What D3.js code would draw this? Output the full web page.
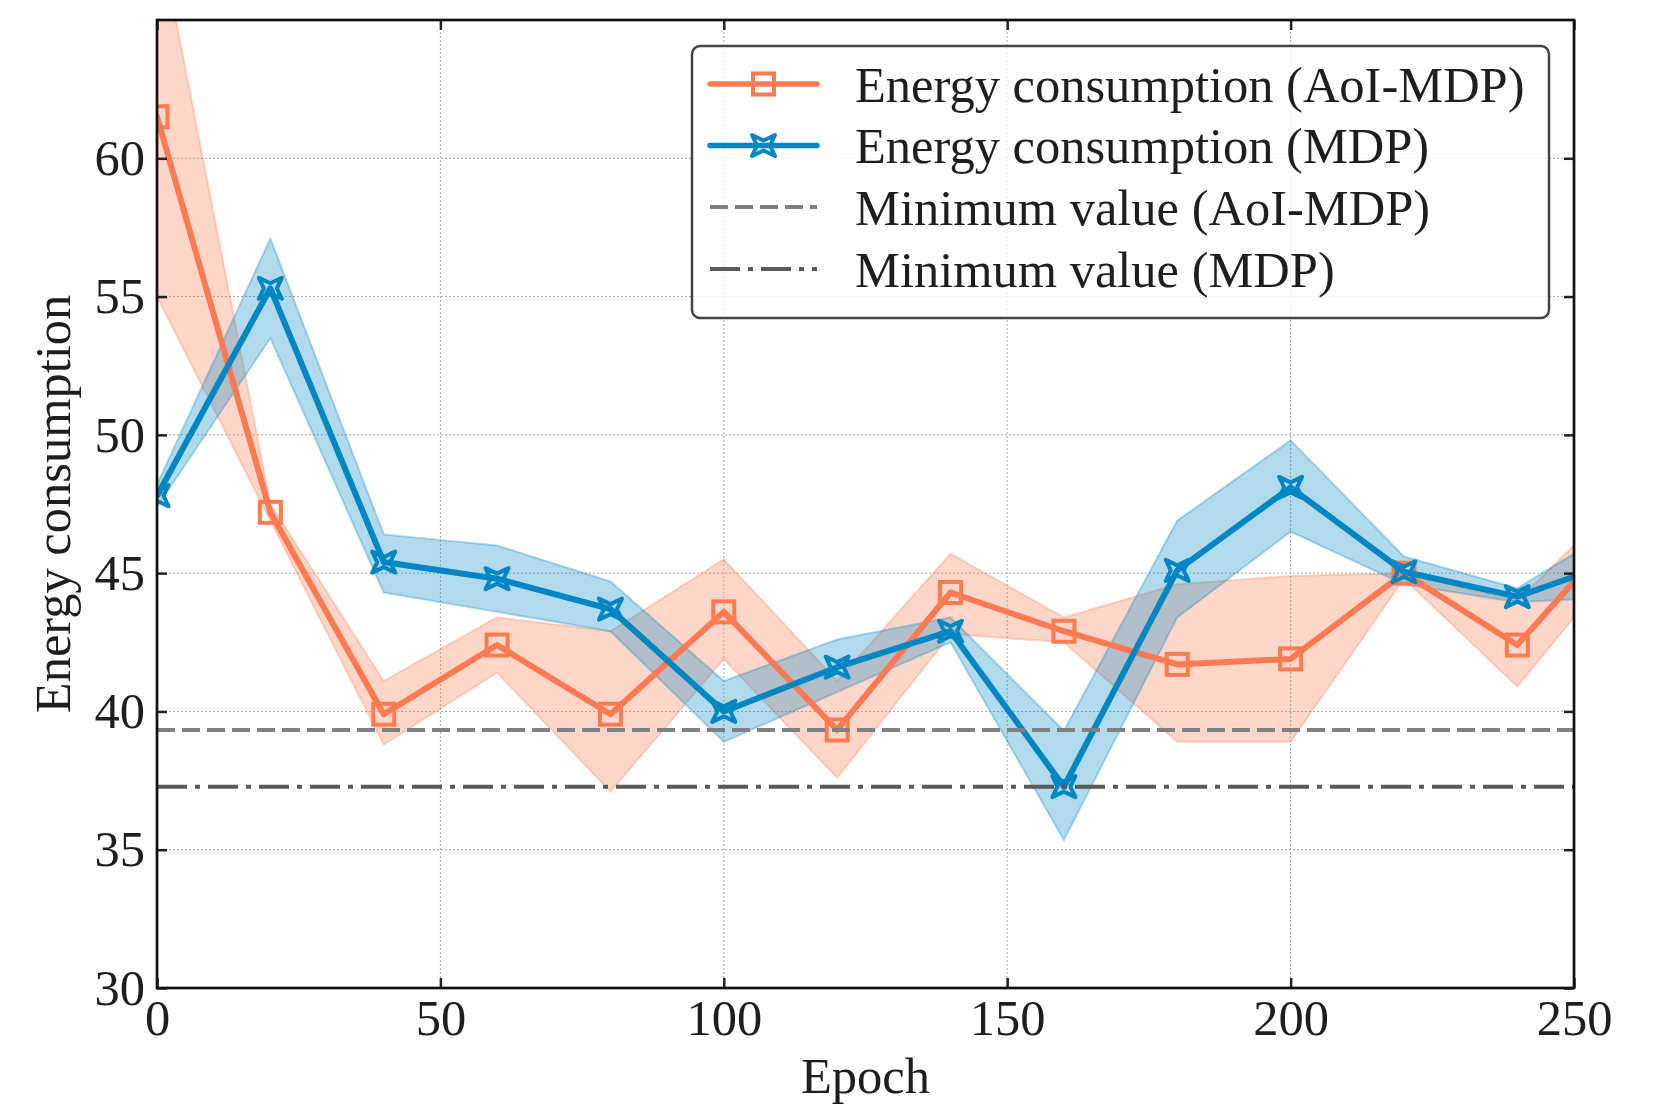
<!DOCTYPE html>
<html>
<head>
<meta charset="utf-8">
<script src="https://cdn.jsdelivr.net/npm/d3@7"></script>
<style>
body { margin: 0; background: #fff; }
text { font-family: "Liberation Serif", "Times New Roman", serif; fill: #1e1e1e; }
</style>
</head>
<body>
<svg id="chart" width="1661" height="1109"></svg>
<script>
// ---- data ----
const epochs   = [0, 20, 40, 60, 80, 100, 120, 140, 160, 180, 200, 220, 240, 260];
const aoiMean  = [61.5, 47.2, 39.9, 42.4, 39.9, 43.6, 39.33, 44.3, 42.9, 41.7, 41.9, 45.0, 42.4, 47.0];
const aoiUpper = [68.5, 47.5, 41.1, 43.4, 42.9, 45.5, 41.1, 45.7, 43.4, 44.6, 44.9, 45.0, 44.0, 48.0];
const aoiLower = [55.0, 46.9, 38.8, 41.4, 37.1, 41.9, 37.6, 42.8, 42.5, 38.9, 38.9, 44.8, 40.9, 45.9];
const mdpMean  = [47.8, 55.3, 45.4, 44.8, 43.7, 40.0, 41.6, 42.9, 37.28, 45.1, 48.1, 45.05, 44.15, 45.6];
const mdpUpper = [48.2, 57.1, 46.4, 46.0, 44.7, 41.1, 42.6, 43.4, 39.3, 46.9, 49.8, 45.6, 44.45, 46.95];
const mdpLower = [47.4, 53.5, 44.3, 43.6, 42.9, 38.9, 40.7, 42.5, 35.35, 43.4, 46.5, 44.6, 43.95, 44.15];
const xTicks = [0, 50, 100, 150, 200, 250];
const yTicks = [30, 35, 40, 45, 50, 55, 60];
const legendLabels = [
  "Energy consumption (AoI-MDP)",
  "Energy consumption (MDP)",
  "Minimum value (AoI-MDP)",
  "Minimum value (MDP)"
];
const xLabel = "Epoch";
const yLabel = "Energy consumption";

// ---- layout ----
const L = 157, R = 1574, T = 20, B = 988;
const orange = "#FF7A50", blue = "#0086C3";
const minAoi = d3.min(aoiMean), minMdp = d3.min(mdpMean);

const svg = d3.select("#chart");
const x = d3.scaleLinear().domain([0, 250]).range([L, R]);
const y = d3.scaleLinear().domain([30, 65]).range([B, T]);

svg.append("defs").append("clipPath").attr("id", "clip")
  .append("rect").attr("x", L).attr("y", T).attr("width", R - L).attr("height", B - T);

// grid
const grid = svg.append("g");
grid.selectAll(".gx").data(xTicks).join("line")
  .attr("x1", d => x(d)).attr("x2", d => x(d)).attr("y1", T).attr("y2", B)
  .attr("stroke", "#a8a8a8").attr("stroke-width", 1).attr("stroke-dasharray", "2,2");
grid.selectAll(".gy").data(yTicks).join("line")
  .attr("y1", d => y(d)).attr("y2", d => y(d)).attr("x1", L).attr("x2", R)
  .attr("stroke", "#a8a8a8").attr("stroke-width", 1).attr("stroke-dasharray", "2,2");

const plot = svg.append("g").attr("clip-path", "url(#clip)");

function band(upper, lower, color) {
  const a = d3.area().x((d, i) => x(epochs[i])).y0((d, i) => y(lower[i])).y1((d, i) => y(upper[i]));
  plot.append("path").datum(upper).attr("d", a)
    .attr("fill", color).attr("fill-opacity", 0.3)
    .attr("stroke", color).attr("stroke-opacity", 0.3).attr("stroke-width", 2);
}
band(aoiUpper, aoiLower, orange);
band(mdpUpper, mdpLower, blue);

const line = d3.line().x((d, i) => x(epochs[i])).y(d => y(d));
const starPath = "M-11.5,-10.5 L0,-5 L11.5,-10.5 L6.5,0 L11.5,10.5 L0,5 L-11.5,10.5 L-6.5,0 Z";

function series(vals, color, marker) {
  plot.append("path").datum(vals).attr("d", line)
    .attr("fill", "none").attr("stroke", color).attr("stroke-width", 6)
    .attr("stroke-linejoin", "round").attr("stroke-linecap", "round");
  const g = plot.append("g");
  vals.forEach((v, i) => {
    const cx = x(epochs[i]), cy = y(v);
    if (marker === "square") {
      g.append("rect").attr("x", cx - 10.5).attr("y", cy - 10.5).attr("width", 21).attr("height", 21)
        .attr("fill", "none").attr("stroke", color).attr("stroke-width", 4);
    } else {
      g.append("path").attr("d", starPath).attr("transform", `translate(${cx},${cy})`)
        .attr("fill", "none").attr("stroke", color).attr("stroke-width", 4).attr("stroke-linejoin", "round");
    }
  });
}
series(aoiMean, orange, "square");
series(mdpMean, blue, "star");

// minimum lines
plot.append("line").attr("x1", L).attr("x2", R).attr("y1", y(minAoi)).attr("y2", y(minAoi))
  .attr("stroke", "#808080").attr("stroke-width", 4).attr("stroke-dasharray", "18,7");
plot.append("line").attr("x1", L).attr("x2", R).attr("y1", y(minMdp)).attr("y2", y(minMdp))
  .attr("stroke", "#5a5a56").attr("stroke-width", 4).attr("stroke-dasharray", "30,8,5,8");

// axes
const fs = 50.5;
const axB = svg.append("g").attr("transform", `translate(0,${B})`)
  .call(d3.axisBottom(x).tickValues(xTicks).tickSizeInner(-10).tickSizeOuter(0).tickPadding(11.5).tickFormat(d3.format("d")));
const axL = svg.append("g").attr("transform", `translate(${L},0)`)
  .call(d3.axisLeft(y).tickValues(yTicks).tickSizeInner(-10).tickSizeOuter(0).tickPadding(12).tickFormat(d3.format("d")));
const axT = svg.append("g").attr("transform", `translate(0,${T})`)
  .call(d3.axisTop(x).tickValues(xTicks).tickSizeInner(-10).tickSizeOuter(0).tickFormat(""));
const axR = svg.append("g").attr("transform", `translate(${R},0)`)
  .call(d3.axisRight(y).tickValues(yTicks).tickSizeInner(-10).tickSizeOuter(0).tickFormat(""));
[axB, axL, axT, axR].forEach(a => {
  a.select(".domain").remove();
  a.selectAll(".tick line").attr("stroke", "#222").attr("stroke-width", 2.5);
  a.selectAll(".tick text").style("font-family", "'Liberation Serif', serif").style("font-size", fs + "px").attr("fill", "#1e1e1e");
});

// frame
svg.append("rect").attr("x", L).attr("y", T).attr("width", R - L).attr("height", B - T)
  .attr("fill", "none").attr("stroke", "#111").attr("stroke-width", 2.7);

// axis labels
svg.append("text").attr("x", (L + R) / 2).attr("y", 1093).attr("text-anchor", "middle")
  .style("font-size", fs + "px").text(xLabel);
svg.append("text").attr("transform", `translate(70,${(T + B) / 2}) rotate(-90)`).attr("text-anchor", "middle")
  .style("font-size", fs + "px").text(yLabel);

// legend
const lg = svg.append("g");
lg.append("rect").attr("x", 692).attr("y", 46).attr("width", 857).attr("height", 272).attr("rx", 8)
  .attr("fill", "#fff").attr("fill-opacity", 0.8).attr("stroke", "#444").attr("stroke-width", 2.5);
const rowsY = [84, 145.5, 207, 269];
const lx1 = 710, lx2 = 817, lmx = (lx1 + lx2) / 2;
const styles = [
  { c: orange, w: 5.5, dash: null, m: "square" },
  { c: blue, w: 5.5, dash: null, m: "star" },
  { c: "#808080", w: 4, dash: "18,7", m: null },
  { c: "#5a5a56", w: 4, dash: "30,8,5,8", m: null }
];
legendLabels.forEach((lab, i) => {
  const s = styles[i], yy = rowsY[i];
  const ln = lg.append("line").attr("x1", lx1).attr("x2", lx2).attr("y1", yy).attr("y2", yy)
    .attr("stroke", s.c).attr("stroke-width", s.w);
  if (s.dash) ln.attr("stroke-dasharray", s.dash); else ln.attr("stroke-linecap", "round");
  if (s.m === "square") {
    lg.append("rect").attr("x", lmx - 10.5).attr("y", yy - 10.5).attr("width", 21).attr("height", 21)
      .attr("fill", "none").attr("stroke", s.c).attr("stroke-width", 4);
  } else if (s.m === "star") {
    lg.append("path").attr("d", starPath).attr("transform", `translate(${lmx},${yy})`)
      .attr("fill", "none").attr("stroke", s.c).attr("stroke-width", 4).attr("stroke-linejoin", "round");
  }
  lg.append("text").attr("x", 855).attr("y", yy + 17.5).style("font-size", fs + "px").text(lab);
});
</script>
</body>
</html>
